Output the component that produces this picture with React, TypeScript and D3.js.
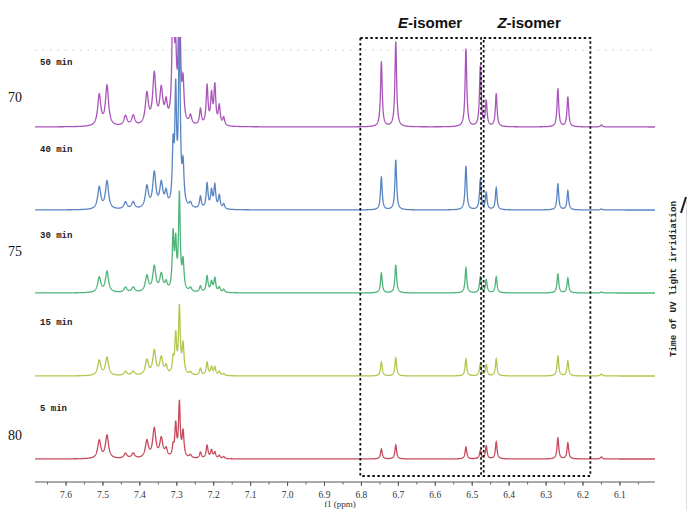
import React from "react";
import * as d3 from "d3";

// spectra, bottom to top
const times = ["5 min", "15 min", "30 min", "40 min", "50 min"];
const colors = ["#c23b4e", "#a9c23f", "#3fae6c", "#4a7bbd", "#a347b5"];

// peak positions (ppm) and line half-widths (ppm)
const peakPpm = [
  7.51, 7.489, 7.439, 7.418, 7.381, 7.361, 7.342, 7.329,
  7.31, 7.303, 7.293, 7.283, 7.263,
  7.236, 7.218, 7.206, 7.197, 7.185, 7.173,
  6.746, 6.707, 6.517, 6.478, 6.462, 6.435, 6.268, 6.241, 6.15,
];
const peakWidth = [
  0.005, 0.005, 0.005, 0.005, 0.005, 0.005, 0.005, 0.004,
  0.0027, 0.0027, 0.0027, 0.003, 0.004,
  0.003, 0.003, 0.003, 0.003, 0.003, 0.003,
  0.0027, 0.0027, 0.0027, 0.0027, 0.0027, 0.0027, 0.0027, 0.0027, 0.003,
];
// peak heights (a.u.) for each spectrum
const h5 = [18, 23, 5, 5, 17, 29, 19, 8, 10, 32, 54, 25, 3, 6, 13, 8, 6, 3, 2, 10, 14, 12, 8, 13, 17, 21, 16, 2];
const h15 = [15, 18, 4, 4, 15, 24, 17, 8, 14, 38, 66, 29, 3, 7, 13, 8, 8, 4, 2, 14, 18, 17, 12, 11, 17, 20, 15, 2];
const h30 = [15, 21, 5, 5, 16, 25, 17, 8, 55, 45, 95, 28, 4, 6, 16, 10, 14, 5, 3, 20, 28, 25, 16, 13, 16, 19, 15, 1];
const h40 = [22, 28, 7, 7, 22, 35, 24, 14, 55, 110, 180, 38, 5, 12, 25, 17, 23, 13, 5, 33, 50, 44, 30, 17, 22, 26, 19, 1];
const h50 = [31, 40, 10, 10, 31, 50, 34, 19, 170, 55, 170, 38, 9, 16, 39, 29, 39, 19, 8, 65, 85, 78, 60, 25, 33, 38, 30, 2];
const heights = [h5, h15, h30, h40, h50];

const ppmTicks = [7.6, 7.5, 7.4, 7.3, 7.2, 7.1, 7.0, 6.9, 6.8, 6.7, 6.6, 6.5, 6.4, 6.3, 6.2, 6.1];
const sideNumbers = ["70", "75", "80"];
const sideNumberY = [102, 256, 440];
const boxE = [6.803, 6.476];
const boxZ = [6.469, 6.18];
const isomerLabelPpm = [6.614, 6.346];

const W = 687;
const H = 510;

export default function App() {
  const x = d3.scaleLinear().domain([7.684, 6.005]).range([35, 655]);
  const base = d3.scalePoint<string>().domain(times).range([459, 127]);
  const labelPos = d3.scalePoint<string>().domain(times).range([411, 65]);
  const yAmp = d3.scaleLinear().domain([0, 100]).range([0, 100]);
  const grid = d3.range(6.005, 7.684, 0.0004);
  const minorTicks = d3.range(0, 34).map((i) => 7.65 - i * 0.05).filter((v) => v > 6.0);

  const spectrum = (hs: number[]) =>
    grid.map((p) => {
      let s = 0;
      for (let i = 0; i < peakPpm.length; i++) {
        const w = peakWidth[i];
        const d = p - peakPpm[i];
        s += (hs[i] * w * w) / (d * d + w * w);
      }
      return [p, s] as [number, number];
    });

  const order = [4, 3, 2, 1, 0];
  const axisY = 482;
  const boxTop = 38;
  const boxBottom = 476;

  return (
    <svg width={W} height={H} style={{ position: "absolute", left: 0, top: 0, background: "#fff" }}>
      <defs>
        <clipPath id="plotclip">
          <rect x={30} y={37} width={630} height={450} />
        </clipPath>
      </defs>
      <rect x={0} y={0} width={W} height={H} fill="#fff" />
      {/* faint dotted top line */}
      <line x1={35} x2={655} y1={50} y2={50} stroke="#c8c8c8" strokeWidth={1} strokeDasharray="1.5,6" />
      <g clipPath="url(#plotclip)">
        {order.map((k) => {
          const t = times[k];
          const b = base(t)!;
          const line = d3
            .line<[number, number]>()
            .x((d) => x(d[0]))
            .y((d) => b - yAmp(d[1]));
          return (
            <path key={t} d={line(spectrum(heights[k])) || ""} fill="none" stroke={colors[k]} strokeWidth={1.3} strokeOpacity={0.92} />
          );
        })}
      </g>
      {/* dashed boxes */}
      {[boxE, boxZ].map((bx, i) => (
        <rect
          key={i}
          x={x(bx[0])}
          y={boxTop}
          width={x(bx[1]) - x(bx[0])}
          height={boxBottom - boxTop}
          fill="none"
          stroke="#111"
          strokeWidth={1.8}
          strokeDasharray="2.5,2.5"
        />
      ))}
      <text x={x(isomerLabelPpm[0])} y={28} textAnchor="middle" fontFamily="Liberation Sans, Arial, sans-serif" fontWeight="bold" fontSize={15} fill="#111">
        <tspan fontStyle="italic">E</tspan>-isomer
      </text>
      <text x={x(isomerLabelPpm[1])} y={28} textAnchor="middle" fontFamily="Liberation Sans, Arial, sans-serif" fontWeight="bold" fontSize={15} fill="#111">
        <tspan fontStyle="italic">Z</tspan>-isomer
      </text>
      {/* time labels */}
      {times.map((t) => (
        <text key={t} x={40} y={labelPos(t)!} fontFamily="Liberation Mono, monospace" fontWeight="bold" fontSize={9} fill="#222">
          {t}
        </text>
      ))}
      {/* left numbers */}
      {sideNumbers.map((n, i) => (
        <text key={n} x={8} y={sideNumberY[i]} fontFamily="Liberation Serif, Times New Roman, serif" fontSize={14} fill="#111">
          {n}
        </text>
      ))}
      {/* axis */}
      <line x1={35} x2={655} y1={axisY} y2={axisY} stroke="#555" strokeWidth={1} />
      {minorTicks.map((v) => (
        <line key={"m" + v} x1={x(v)} x2={x(v)} y1={axisY} y2={axisY + 2.5} stroke="#666" strokeWidth={1} />
      ))}
      {ppmTicks.map((v) => (
        <g key={v}>
          <line x1={x(v)} x2={x(v)} y1={axisY} y2={axisY + 4} stroke="#555" strokeWidth={1} />
          <text x={x(v)} y={498} textAnchor="middle" fontFamily="Liberation Serif, Times New Roman, serif" fontSize={9.5} fill="#333">
            {v.toFixed(1)}
          </text>
        </g>
      ))}
      <text x={340} y={507} textAnchor="middle" fontFamily="Liberation Serif, Times New Roman, serif" fontSize={9} fill="#333">
        f1 (ppm)
      </text>
      {/* right axis title */}
      <text
        transform="translate(676,279) rotate(-90)"
        textAnchor="middle"
        fontFamily="Liberation Mono, monospace"
        fontWeight="bold"
        fontSize={9.3}
        fill="#222"
      >
        Time of UV light irridiation
      </text>
      <line x1={681} y1={213} x2={686} y2={197} stroke="#222" strokeWidth={2} />
      <line x1={686.5} y1={200} x2={686.5} y2={510} stroke="#ddd" strokeWidth={1} />
    </svg>
  );
}
